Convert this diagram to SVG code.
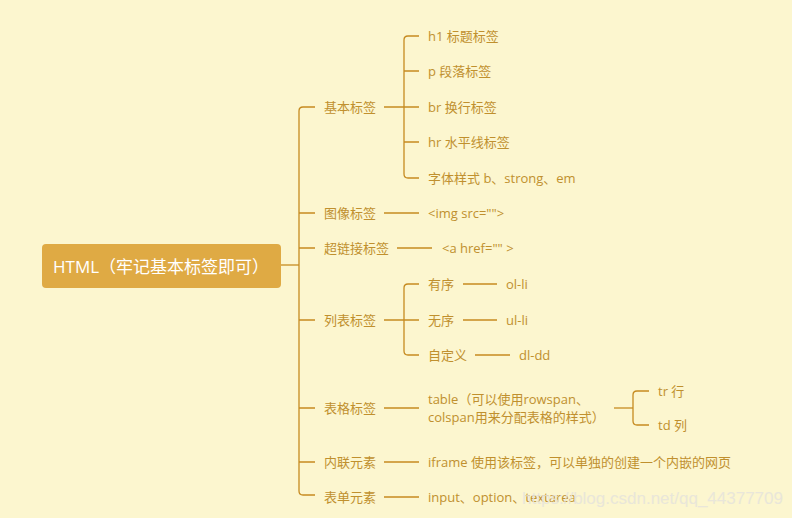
<svg xmlns="http://www.w3.org/2000/svg" width="792" height="518" viewBox="0 0 792 518">
<style>
.ln{fill:none;stroke:#C68B21;stroke-width:1.3}
.t{font-family:"Open Sans","Noto Sans CJK SC",sans-serif;font-size:13px;fill:#C0902E;dominant-baseline:central}
.root{font-family:"Open Sans","Noto Sans CJK SC",sans-serif;font-size:17px;fill:#FFFFFF;dominant-baseline:central}
.wm{font-family:"Liberation Sans",sans-serif;font-size:17px;fill:#E6E4DC;opacity:0.85;dominant-baseline:central}
</style>
<rect width="792" height="518" fill="#FCF6CF"/>
<g id="connectors">
<path class="ln" d="M281 265H299"/>
<path class="ln" d="M315 107H303Q299 107 299 111V491Q299 495 303 495H315"/>
<path class="ln" d="M299 213H315M299 248H315M299 320H315M299 408H315M299 462H315"/>
<path class="ln" d="M384 107H419"/>
<path class="ln" d="M419 36H408Q404 36 404 40V174Q404 178 408 178H419"/>
<path class="ln" d="M404 71H419M404 142H419"/>
<path class="ln" d="M384 213H419"/>
<path class="ln" d="M397 248H432"/>
<path class="ln" d="M384 320H419"/>
<path class="ln" d="M419 284H408Q404 284 404 288V351Q404 355 408 355H419"/>
<path class="ln" d="M463 284H497M463 320H497M475 355H510"/>
<path class="ln" d="M384 408H419"/>
<path class="ln" d="M614 408H633"/>
<path class="ln" d="M649 391H637Q633 391 633 395V421Q633 425 637 425H649"/>
<path class="ln" d="M384 462H419M384 497H419"/>
</g>
<g id="root">
<rect x="42" y="244" width="239" height="44" rx="4" fill="#DFAA44"/>
<text class="root" x="53" y="266">HTML（牢记基本标签即可）</text>
</g>
<g id="n-basic"><text class="t" x="324" y="107">基本标签</text></g>
<g id="n-h1"><text class="t" x="428" y="36">h1 标题标签</text></g>
<g id="n-p"><text class="t" x="428" y="71">p 段落标签</text></g>
<g id="n-br"><text class="t" x="428" y="107">br 换行标签</text></g>
<g id="n-hr"><text class="t" x="428" y="142">hr 水平线标签</text></g>
<g id="n-font"><text class="t" x="428" y="178">字体样式 b、strong、em</text></g>
<g id="n-img"><text class="t" x="324" y="213">图像标签</text></g>
<g id="n-imgtag"><text class="t" x="428" y="213">&lt;img src=""&gt;</text></g>
<g id="n-link"><text class="t" x="324" y="248">超链接标签</text></g>
<g id="n-linktag"><text class="t" x="442" y="248">&lt;a href="" &gt;</text></g>
<g id="n-list"><text class="t" x="324" y="320">列表标签</text></g>
<g id="n-ol"><text class="t" x="428" y="284">有序</text></g>
<g id="n-olli"><text class="t" x="506" y="284">ol-li</text></g>
<g id="n-ul"><text class="t" x="428" y="320">无序</text></g>
<g id="n-ulli"><text class="t" x="506" y="320">ul-li</text></g>
<g id="n-dl"><text class="t" x="428" y="355">自定义</text></g>
<g id="n-dldd"><text class="t" x="519" y="355">dl-dd</text></g>
<g id="n-table"><text class="t" x="324" y="408">表格标签</text></g>
<g id="n-tabletext"><text class="t" x="428" y="399">table（可以使用rowspan、</text><text class="t" x="428" y="417">colspan用来分配表格的样式）</text></g>
<g id="n-tr"><text class="t" x="658" y="391">tr 行</text></g>
<g id="n-td"><text class="t" x="658" y="425">td 列</text></g>
<g id="n-inline"><text class="t" x="324" y="462">内联元素</text></g>
<g id="n-iframe"><text class="t" x="428" y="462">iframe 使用该标签，可以单独的创建一个内嵌的网页</text></g>
<g id="n-form"><text class="t" x="324" y="497">表单元素</text></g>
<g id="n-input"><text class="t" x="428" y="497">input、option、textarea</text></g>
<text class="wm" x="783" y="498" text-anchor="end">https://blog.csdn.net/qq_44377709</text>
</svg>
